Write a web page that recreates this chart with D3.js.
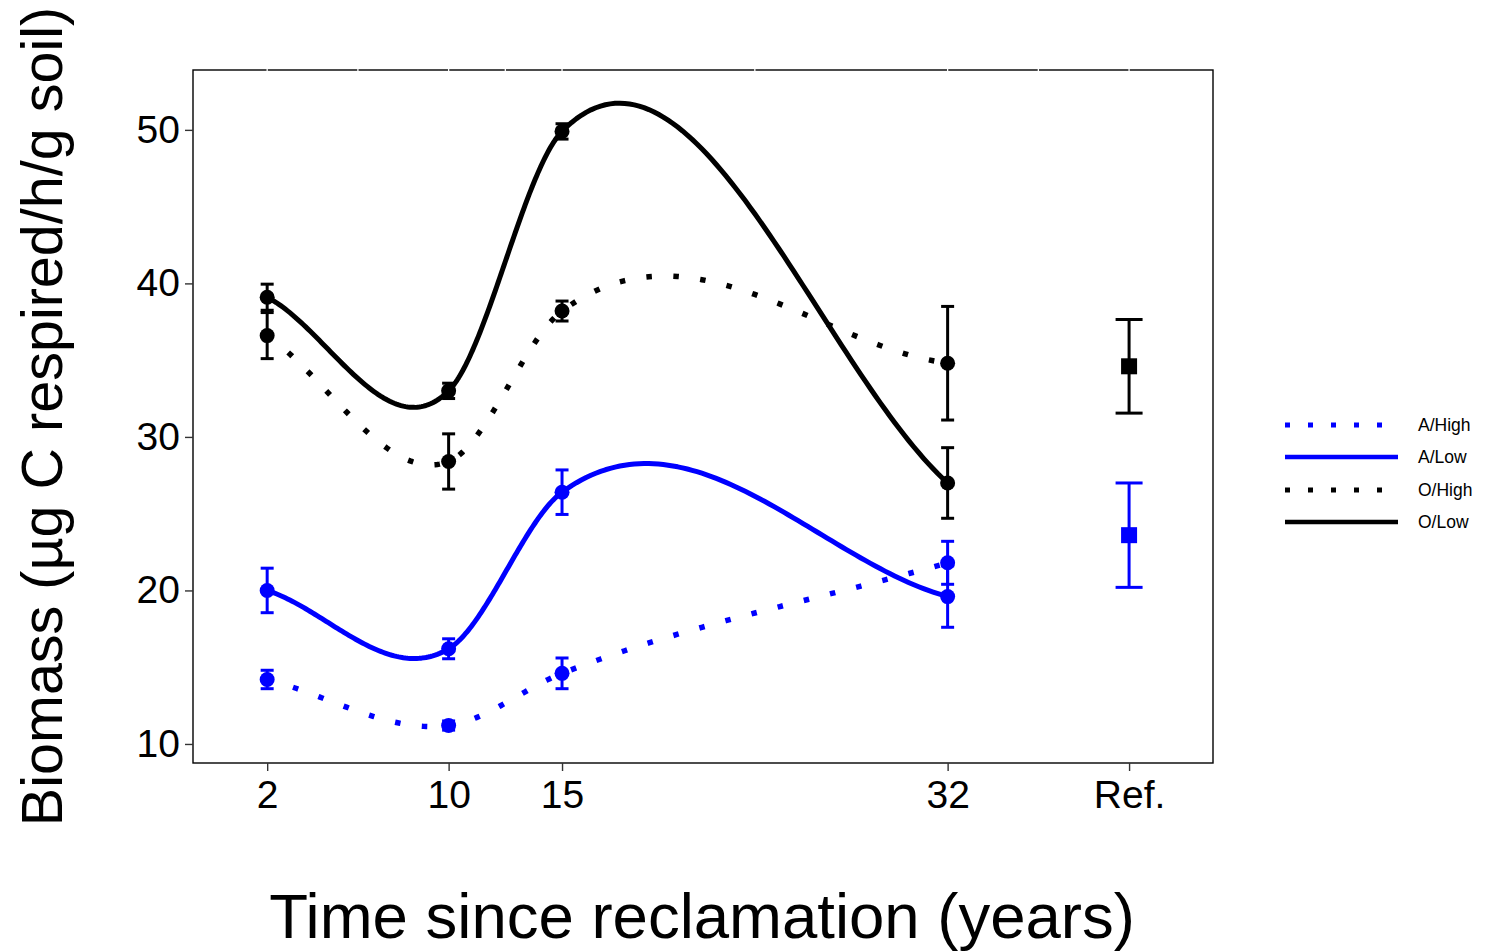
<!DOCTYPE html>
<html>
<head>
<meta charset="utf-8">
<script src="https://cdn.jsdelivr.net/npm/d3@7"></script>
<style>
  html, body { margin: 0; padding: 0; background: #fff; }
  svg text { font-family: "Liberation Sans", Arial, sans-serif; }
</style>
</head>
<body>
<svg id="chart" width="1492" height="952"></svg>
<script>
// ---------------- data ----------------
const times = [2, 10, 15, 32];
const tickValues = [2, 10, 15, 32, 40];
const tickLabels = ["2", "10", "15", "32", "Ref."];
const yTicks = [10, 20, 30, 40, 50];
const refX = 40;

const seriesNames = ["A/High", "A/Low", "O/High", "O/Low"];
const aHigh = [14.2, 11.2, 14.6, 21.8];
const aHighErr = [0.6, 0.3, 1.0, 1.4];
const aLow = [20.0, 16.2, 26.4, 19.6];
const aLowErr = [1.45, 0.65, 1.45, 2.0];
const oHigh = [36.6, 28.4, 38.2, 34.8];
const oHighErr = [1.5, 1.8, 0.65, 3.7];
const oLow = [39.1, 33.0, 49.9, 27.0];
const oLowErr = [0.85, 0.5, 0.5, 2.3];

const refGroups = ["A", "O"];
const refValues = [23.6, 34.6];
const refErr = [3.4, 3.05];

// ---------------- setup ----------------
const svg = d3.select("#chart");
const panel = { left: 193, right: 1213, top: 70, bottom: 763 };
const x = d3.scaleLinear().domain([-1.27, 43.7]).range([panel.left, panel.right]);
const y = d3.scaleLinear().domain([8.76, 53.9]).range([panel.bottom, panel.top]);

const series = [
  { name: seriesNames[0], vals: aHigh, err: aHighErr, color: "#0000ff", dotted: true },
  { name: seriesNames[1], vals: aLow, err: aLowErr, color: "#0000ff", dotted: false },
  { name: seriesNames[2], vals: oHigh, err: oHighErr, color: "#000000", dotted: true },
  { name: seriesNames[3], vals: oLow, err: oLowErr, color: "#000000", dotted: false }
];
const refColors = ["#0000ff", "#000000"];

// smooth interpolating curve (cubic Hermite in data space)
function smoothPoints(xs, ys, steps) {
  const n = xs.length, h = [], d = [], m = [];
  for (let i = 0; i < n - 1; i++) { h.push(xs[i + 1] - xs[i]); d.push((ys[i + 1] - ys[i]) / h[i]); }
  m[0] = d[0]; m[n - 1] = d[n - 2];
  for (let i = 1; i < n - 1; i++) {
    const wa = Math.pow(h[i], 0.35), wb = Math.pow(h[i - 1], 0.35);
    m[i] = (wa * d[i - 1] + wb * d[i]) / (wa + wb);
  }
  const out = [];
  for (let i = 0; i < n - 1; i++) {
    for (let j = 0; j <= steps; j++) {
      if (i > 0 && j === 0) continue;
      const s = j / steps, s2 = s * s, s3 = s2 * s;
      const h00 = 2 * s3 - 3 * s2 + 1, h10 = s3 - 2 * s2 + s, h01 = -2 * s3 + 3 * s2, h11 = s3 - s2;
      out.push([xs[i] + s * h[i], h00 * ys[i] + h10 * h[i] * m[i] + h01 * ys[i + 1] + h11 * h[i] * m[i + 1]]);
    }
  }
  return out;
}

// ---------------- panel border + gaps ----------------
svg.append("rect")
  .attr("x", panel.left).attr("y", panel.top)
  .attr("width", panel.right - panel.left).attr("height", panel.bottom - panel.top)
  .attr("fill", "none").attr("stroke", "#000").attr("stroke-width", 1.4);

const gridBreaks = [];
for (let i = 0; i < tickValues.length; i++) {
  gridBreaks.push(tickValues[i]);
  if (i < tickValues.length - 1) gridBreaks.push((tickValues[i] + tickValues[i + 1]) / 2);
}
svg.append("g").selectAll("line").data(gridBreaks).join("line")
  .attr("x1", d => x(d)).attr("x2", d => x(d))
  .attr("y1", panel.top - 1.5).attr("y2", panel.top + 1.5)
  .attr("stroke", "#fff").attr("stroke-width", 1.3);

// ---------------- axes ----------------
const xAxis = d3.axisBottom(x).tickValues(tickValues)
  .tickFormat((d, i) => tickLabels[i]).tickSize(8).tickPadding(9);
const gx = svg.append("g").attr("transform", `translate(0,${panel.bottom})`).call(xAxis);
gx.select(".domain").remove();
gx.selectAll(".tick line").attr("stroke", "#333").attr("stroke-width", 1.4);
gx.selectAll(".tick text").attr("font-size", 39).attr("fill", "#000")
  .attr("font-family", "'Liberation Sans', Arial, sans-serif");

const yAxis = d3.axisLeft(y).tickValues(yTicks).tickSize(8).tickPadding(5);
const gy = svg.append("g").attr("transform", `translate(${panel.left},0)`).call(yAxis);
gy.select(".domain").remove();
gy.selectAll(".tick line").attr("stroke", "#333").attr("stroke-width", 1.4);
gy.selectAll(".tick text").attr("font-size", 39).attr("fill", "#000")
  .attr("font-family", "'Liberation Sans', Arial, sans-serif");

// axis titles
svg.append("text")
  .attr("x", 702).attr("y", 938)
  .attr("text-anchor", "middle").attr("font-size", 63.5).attr("fill", "#000")
  .text("Time since reclamation (years)");
svg.append("text")
  .attr("transform", `translate(62,${(panel.top + panel.bottom) / 2}) rotate(-90)`)
  .attr("text-anchor", "middle").attr("font-size", 57.5).attr("fill", "#000")
  .text("Biomass (\u00b5g C respired/h/g soil)");

// ---------------- curves ----------------
const line = d3.line().x(d => x(d[0])).y(d => y(d[1]));
const plot = svg.append("g");
series.forEach(s => {
  plot.append("path")
    .attr("d", line(smoothPoints(times, s.vals, 80)))
    .attr("fill", "none").attr("stroke", s.color)
    .attr("stroke-width", s.dotted ? 5.5 : 5)
    .attr("stroke-dasharray", s.dotted ? "5.5,21.5" : null)
    .attr("stroke-linejoin", "round");
});

// ---------------- error bars + points ----------------
const capHalf = 6.5;
series.forEach(s => {
  const g = plot.append("g");
  const pts = times.map((t, i) => ({ t, v: s.vals[i], e: s.err[i] }));
  g.selectAll("line.v").data(pts).join("line")
    .attr("x1", d => x(d.t)).attr("x2", d => x(d.t))
    .attr("y1", d => y(d.v - d.e)).attr("y2", d => y(d.v + d.e))
    .attr("stroke", s.color).attr("stroke-width", 3);
  ["lo", "hi"].forEach(k => {
    g.selectAll("line." + k).data(pts).join("line")
      .attr("x1", d => x(d.t) - capHalf).attr("x2", d => x(d.t) + capHalf)
      .attr("y1", d => y(k === "lo" ? d.v - d.e : d.v + d.e))
      .attr("y2", d => y(k === "lo" ? d.v - d.e : d.v + d.e))
      .attr("stroke", s.color).attr("stroke-width", 3);
  });
  g.selectAll("circle").data(pts).join("circle")
    .attr("cx", d => x(d.t)).attr("cy", d => y(d.v)).attr("r", 7.5)
    .attr("fill", s.color);
});

// reference points
const refCapHalf = 13.5;
refGroups.forEach((grp, i) => {
  const g = plot.append("g");
  const v = refValues[i], e = refErr[i], c = refColors[i];
  g.append("line").attr("x1", x(refX)).attr("x2", x(refX))
    .attr("y1", y(v - e)).attr("y2", y(v + e)).attr("stroke", c).attr("stroke-width", 3);
  [v - e, v + e].forEach(yy => {
    g.append("line").attr("x1", x(refX) - refCapHalf).attr("x2", x(refX) + refCapHalf)
      .attr("y1", y(yy)).attr("y2", y(yy)).attr("stroke", c).attr("stroke-width", 3);
  });
  g.append("rect").attr("x", x(refX) - 8).attr("y", y(v) - 8)
    .attr("width", 16).attr("height", 16).attr("fill", c);
});

// ---------------- legend ----------------
const legendY = [425, 457, 490, 522];
const legend = svg.append("g");
series.forEach((s, i) => {
  legend.append("line")
    .attr("x1", 1285).attr("x2", 1398).attr("y1", legendY[i]).attr("y2", legendY[i])
    .attr("stroke", s.color).attr("stroke-width", s.dotted ? 5 : 4.5)
    .attr("stroke-dasharray", s.dotted ? "5,18" : null);
  legend.append("text")
    .attr("x", 1418).attr("y", legendY[i]).attr("dy", "0.35em")
    .attr("font-size", 17.5).attr("fill", "#000")
    .text(s.name);
});
</script>
</body>
</html>
